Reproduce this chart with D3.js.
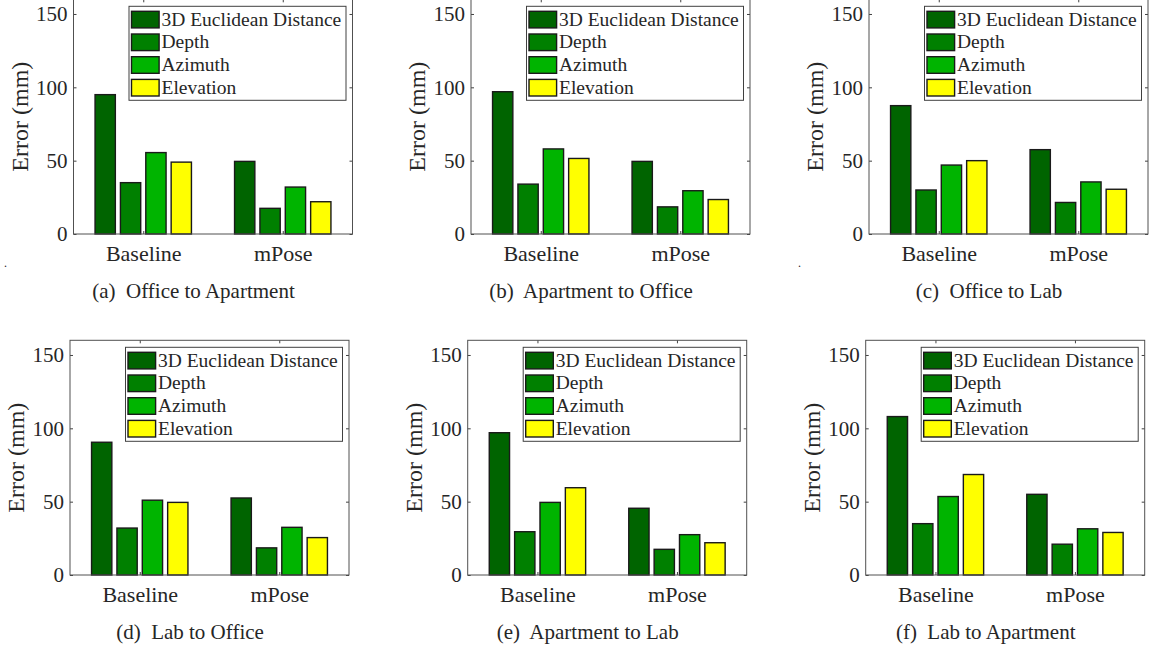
<!DOCTYPE html>
<html>
<head>
<meta charset="utf-8">
<script src="https://cdn.jsdelivr.net/npm/d3@7"></script>
<style>
  html, body { margin: 0; padding: 0; background: #fff; }
  svg { display: block; font-family: "Liberation Serif", "Times New Roman", serif; }
  text { fill: #262626; }
</style>
</head>
<body>
<svg id="chart" width="1150" height="650"></svg>
<script>
// ---------------- data ----------------
const categories = ["Baseline", "mPose"];
const seriesNames = ["3D Euclidean Distance", "Depth", "Azimuth", "Elevation"];
const seriesColors = ["#006400", "#008000", "#00b400", "#ffff00"];
const yTicks = [0, 50, 100, 150];
const captions = ["(a)  Office to Apartment", "(b)  Apartment to Office", "(c)  Office to Lab",
                  "(d)  Lab to Office", "(e)  Apartment to Lab", "(f)  Lab to Apartment"];
// values per panel: [Baseline series values], [mPose series values]
const officeToApartment = [[95, 35, 55.5, 49], [49.5, 17.5, 32, 22]];
const apartmentToOffice = [[97, 34, 58, 51.5], [49.5, 18.5, 29.5, 23.5]];
const officeToLab       = [[87.5, 30, 47, 50], [57.5, 21.5, 35.5, 30.5]];
const labToOffice       = [[90.5, 32, 51, 49.5], [52.5, 18.5, 32.5, 25.5]];
const apartmentToLab    = [[97, 29.5, 49.5, 59.5], [45.5, 17.5, 27.5, 22]];
const labToApartment    = [[108, 35, 53.5, 68.5], [55, 21, 31.5, 29]];
const panelData = [officeToApartment, apartmentToOffice, officeToLab,
                   labToOffice, apartmentToLab, labToApartment];

// ---------------- layout ----------------
const svg = d3.select("#chart");
svg.append("rect").attr("width", 1150).attr("height", 650).attr("fill", "#fff");

const plotW = 279, plotH = 234.7;
const panelLefts = [73.5, 471, 869, 70, 467.7, 865.7];
const panelBottoms = [234, 234, 234, 575, 575, 575];

const groupW = 4 / 5.5;          // MATLAB grouped bar width
const step = groupW / 4;
const barW = step * 0.8;

panelData.forEach((data, p) => {
  const left = panelLefts[p], y0 = panelBottoms[p];
  const top = y0 - plotH, right = left + plotW;
  const x = d3.scaleLinear().domain([0.5, 2.5]).range([left, right]);
  const y = d3.scaleLinear().domain([0, 160]).range([y0, top]);
  const g = svg.append("g");

  // bars
  data.forEach((vals, c) => {
    vals.forEach((v, s) => {
      const cx = (c + 1) + (s - 1.5) * step;
      g.append("rect")
        .attr("x", x(cx - barW / 2))
        .attr("y", y(v))
        .attr("width", x(cx + barW / 2) - x(cx - barW / 2))
        .attr("height", y(0) - y(v))
        .attr("fill", seriesColors[s])
        .attr("stroke", "#1a1a1a")
        .attr("stroke-width", 1.4);
    });
  });

  // axes
  const axL = g.append("g").attr("transform", `translate(${left},0)`)
    .call(d3.axisLeft(y).tickValues(yTicks).tickSize(-3).tickSizeOuter(0).tickPadding(6));
  axL.selectAll("text").style("font-size", "21px").style("font-family", "Liberation Serif, serif").attr("fill", "#262626");
  const axR = g.append("g").attr("transform", `translate(${right},0)`)
    .call(d3.axisRight(y).tickValues(yTicks).tickSize(-3).tickSizeOuter(0).tickFormat(""));
  const axT = g.append("g").attr("transform", `translate(0,${top})`)
    .call(d3.axisTop(x).tickValues([1, 2]).tickSize(-3).tickSizeOuter(0).tickFormat(""));
  const axB = g.append("g").attr("transform", `translate(0,${y0})`)
    .call(d3.axisBottom(x).tickValues([1, 2]).tickSize(-3).tickSizeOuter(0)
      .tickFormat(d => categories[d - 1]));
  axB.selectAll("text").attr("y", 27).attr("dy", 0)
    .style("font-size", "22px").style("font-family", "Liberation Serif, serif").attr("fill", "#262626");
  [axL, axR, axT, axB].forEach(a => {
    a.select(".domain").remove();
    a.selectAll("line").attr("stroke", "#404040");
  });
  g.append("rect").attr("x", left).attr("y", top).attr("width", plotW).attr("height", plotH)
    .attr("fill", "none").attr("stroke", "#505050").attr("stroke-width", 1);

  // y label
  g.append("text")
    .attr("transform", `translate(${left - 54},${(y0 + top) / 2}) rotate(-90)`)
    .attr("text-anchor", "middle").attr("dominant-baseline", "central")
    .style("font-size", "24px").text("Error (mm)");

  // legend
  const lw = 217, lh = 94;
  const lx = right - 6.5 - lw, ly = top + 7;
  g.append("rect").attr("x", lx).attr("y", ly).attr("width", lw).attr("height", lh)
    .attr("fill", "#fff").attr("stroke", "#404040").attr("stroke-width", 1);
  seriesNames.forEach((name, s) => {
    const cy = ly + 13.3 + s * 22.7;
    g.append("rect").attr("x", lx + 2.5).attr("y", cy - 8.3).attr("width", 27.6).attr("height", 16.6)
      .attr("fill", seriesColors[s]).attr("stroke", "#1a1a1a").attr("stroke-width", 1.4);
    g.append("text").attr("x", lx + 32.5).attr("y", cy + 6)
      .style("font-size", "19.5px").text(name);
  });

  // caption
  g.append("text").attr("x", left + 120).attr("y", y0 + 64)
    .attr("text-anchor", "middle").style("font-size", "21px").style("white-space", "pre")
    .text(captions[p]);
});

// small stray dots in the reference
svg.append("text").attr("x", 4).attr("y", 267).style("font-size", "12px").text(".");
svg.append("text").attr("x", 798).attr("y", 267).style("font-size", "12px").text(".");
</script>
</body>
</html>
